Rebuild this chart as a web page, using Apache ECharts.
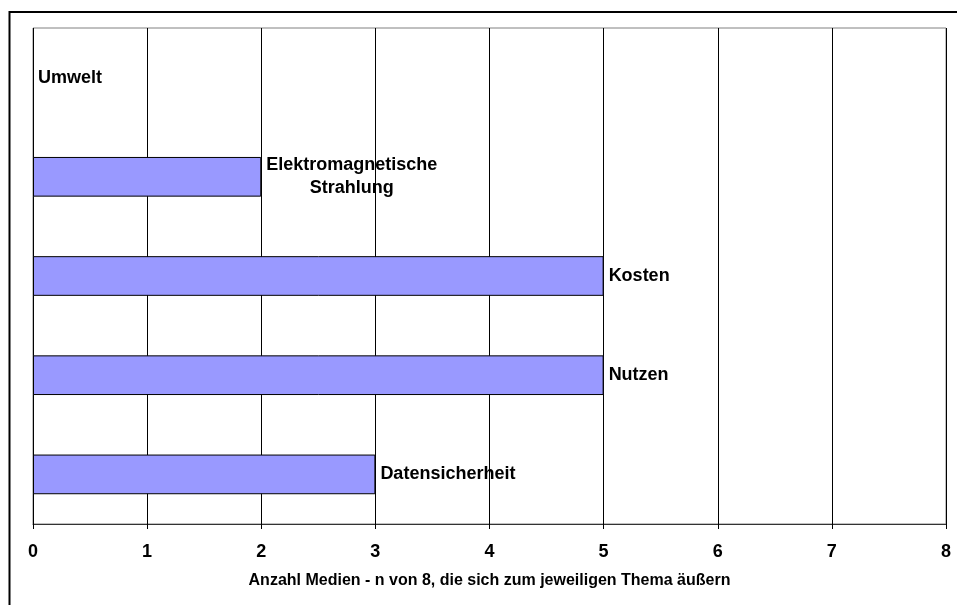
<!DOCTYPE html>
<html>
<head>
<meta charset="utf-8">
<script src="https://cdn.jsdelivr.net/npm/echarts@6/dist/echarts.min.js"></script>
<style>
    html, body { margin: 0; padding: 0; background: #fff; }
    #chart { width: 957px; height: 605px; }
</style>
</head>
<body>
<div id="chart"></div>
<script>
// bottom to top, as drawn on the category axis
const themen = ["Datensicherheit", "Nutzen", "Kosten", "Elektromagnetische\nStrahlung", "Umwelt"];
const anzahlMedien = [3, 5, 5, 2, 0];
const xTicks = [0, 1, 2, 3, 4, 5, 6, 7, 8];

const chart = echarts.init(document.getElementById("chart"));
const fontFamily = "Liberation Sans, Arial, sans-serif";

// a zero-length bar should not leave a border stroke on the axis
const barData = anzahlMedien.map(v => v === 0 ? { value: v, itemStyle: { borderWidth: 0 } } : v);

chart.setOption({
    animation: false,
    grid: {
        left: 33,
        right: 11,
        top: 28,
        bottom: 81,
        show: true,
        borderColor: "#808080",
        borderWidth: 1
    },
    graphic: [{
        type: "rect",
        shape: { x: 9.5, y: 12, width: 1000, height: 1000 },
        style: { fill: "none", stroke: "#000", lineWidth: 2 },
        silent: true
    }],
    xAxis: {
        type: "value",
        min: xTicks[0],
        max: xTicks[xTicks.length - 1],
        interval: 1,
        name: "Anzahl Medien - n von 8, die sich zum jeweiligen Thema äußern",
        nameLocation: "middle",
        nameGap: 49,
        nameTextStyle: { fontFamily, fontWeight: "bold", fontSize: 16, color: "#000" },
        axisLine: { show: true, lineStyle: { color: "#333", width: 1 } },
        axisTick: { show: true, length: 5, lineStyle: { color: "#000" } },
        axisLabel: { margin: 19, fontFamily, fontWeight: "bold", fontSize: 18, color: "#000" },
        splitLine: { show: true, lineStyle: { color: "#000", width: 1 } }
    },
    yAxis: {
        type: "category",
        data: themen,
        axisLine: { show: false },
        axisTick: { show: false },
        axisLabel: { show: false },
        splitLine: { show: false }
    },
    series: [{
        type: "bar",
        data: barData,
        barWidth: "40%",
        itemStyle: { color: "#9999FF", borderColor: "#000", borderWidth: 1 },
        label: {
            show: true,
            position: "right",
            distance: 5,
            formatter: p => p.name.split("\n").map(s => `{a|${s}}`).join("\n"),
            rich: {
                a: { align: "center", fontFamily, fontWeight: "bold", fontSize: 18, color: "#000", lineHeight: 23 }
            }
        }
    }]
});
</script>
</body>
</html>
